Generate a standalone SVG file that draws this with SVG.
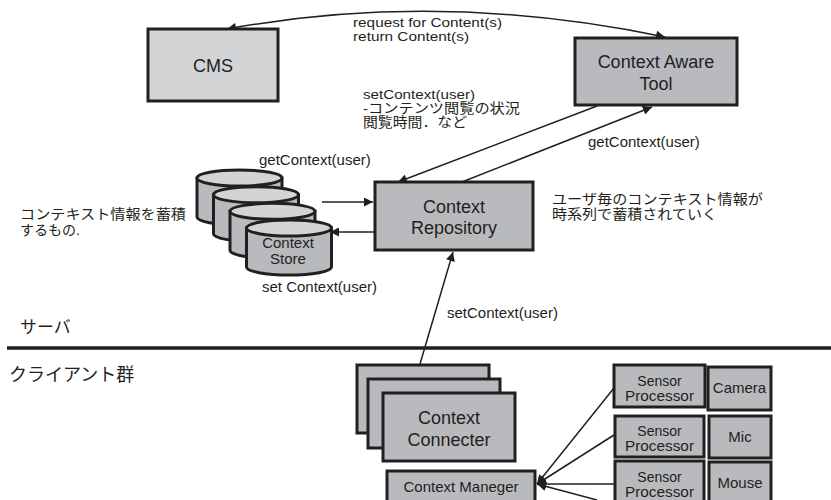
<svg xmlns="http://www.w3.org/2000/svg" width="831" height="500" viewBox="0 0 831 500">
<defs>
<style>
text{font-family:"Liberation Sans","Noto Sans CJK JP",Arial,sans-serif;fill:#231f20}
.box{fill:#b9babd;stroke:#231f20;stroke-width:3}
.lbox{fill:#d3d4d6;stroke:#231f20;stroke-width:3}
.cyl{fill:#b9babd;stroke:#231f20;stroke-width:3}
.cyltop{fill:#d3d4d6;stroke:#231f20;stroke-width:3}
.ln{fill:none;stroke:#231f20;stroke-width:1.5}
.c{text-anchor:middle}
.f18{font-size:18px}
.f15{font-size:15px}
.f14{font-size:14px}
.f13{font-size:13.5px}
</style>
<marker id="ah" viewBox="0 0 10 10" refX="10" refY="5" markerWidth="10" markerHeight="9" markerUnits="userSpaceOnUse" orient="auto-start-reverse">
<path d="M0,0 L10,5 L0,10 z" fill="#231f20"/>
</marker>
</defs>

<g id="connectors">
<path class="ln" d="M227,29 Q440,-10 665,37" marker-start="url(#ah)" marker-end="url(#ah)"/>
<line class="ln" x1="597" y1="106" x2="398" y2="182" marker-end="url(#ah)"/>
<line class="ln" x1="462" y1="182" x2="652" y2="107" marker-end="url(#ah)"/>
<line class="ln" x1="322" y1="202" x2="373" y2="202" stroke-width="2" marker-end="url(#ah)"/>
<line class="ln" x1="375" y1="232" x2="330" y2="232" stroke-width="2" marker-end="url(#ah)"/>
<line class="ln" x1="420" y1="364" x2="453" y2="252" marker-end="url(#ah)"/>
<line class="ln" x1="614" y1="388" x2="537" y2="484" marker-end="url(#ah)"/>
<line class="ln" x1="614" y1="435" x2="537" y2="484" marker-end="url(#ah)"/>
<line class="ln" x1="614" y1="484" x2="537" y2="484" marker-end="url(#ah)"/>
<line class="ln" x1="597" y1="500" x2="537" y2="484" marker-end="url(#ah)"/>
</g>

<line x1="7" y1="348" x2="831" y2="348" stroke="#231f20" stroke-width="3.5"/>

<g id="cms">
<rect class="lbox" x="148" y="29" width="130" height="72"/>
<text class="c f18" x="213" y="72">CMS</text>
</g>

<g id="context-aware-tool">
<rect class="box" x="575" y="38" width="162" height="67"/>
<text class="c f18" x="656" y="68">Context Aware</text>
<text class="c f18" x="656" y="90">Tool</text>
</g>

<g id="context-repository">
<rect class="box" x="375" y="182" width="158" height="68"/>
<text class="c f18" x="454" y="213">Context</text>
<text class="c f18" x="454" y="234">Repository</text>
</g>

<g id="context-store">
<path class="cyl" d="M197,178 v39 a42.5,8 0 0 0 85,0 v-39 z"/>
<ellipse class="cyltop" cx="239.5" cy="178" rx="42.5" ry="8"/>
<path class="cyl" d="M213.5,194.7 v39 a42.5,8 0 0 0 85,0 v-39 z"/>
<ellipse class="cyltop" cx="256" cy="194.7" rx="42.5" ry="8"/>
<path class="cyl" d="M230,211.3 v39 a42.5,8 0 0 0 85,0 v-39 z"/>
<ellipse class="cyltop" cx="272.5" cy="211.3" rx="42.5" ry="8"/>
<path class="cyl" d="M246.5,228 v39 a42.5,8 0 0 0 85,0 v-39 z"/>
<ellipse class="cyltop" cx="289" cy="228" rx="42.5" ry="8"/>
<text class="c f15" x="288" y="248">Context</text>
<text class="c f15" x="288" y="264">Store</text>
</g>

<g id="context-connecter">
<rect class="box" x="357" y="365" width="132" height="68"/>
<rect class="box" x="368" y="379" width="132" height="69"/>
<rect class="box" x="383" y="393" width="132" height="68"/>
<text class="c f18" x="449" y="424">Context</text>
<text class="c f18" x="449" y="446">Connecter</text>
</g>

<g id="context-maneger">
<rect class="box" x="387" y="471" width="148" height="40"/>
<text class="c f15" x="461" y="492">Context Maneger</text>
</g>

<g id="sensor1">
<rect class="box" x="614" y="365" width="91" height="42"/>
<text class="c f14" x="659.5" y="386">Sensor</text>
<text class="c f14" x="659.5" y="401" textLength="69" lengthAdjust="spacingAndGlyphs">Processor</text>
</g>
<g id="sensor2">
<rect class="box" x="615" y="416" width="89" height="41"/>
<text class="c f14" x="659.5" y="436">Sensor</text>
<text class="c f14" x="659.5" y="451" textLength="69" lengthAdjust="spacingAndGlyphs">Processor</text>
</g>
<g id="sensor3">
<rect class="box" x="615" y="461" width="89" height="50"/>
<text class="c f14" x="659.5" y="482">Sensor</text>
<text class="c f14" x="659.5" y="497" textLength="69" lengthAdjust="spacingAndGlyphs">Processor</text>
</g>
<g id="camera">
<rect class="box" x="708" y="367" width="63" height="43"/>
<text class="c f15" x="739.5" y="393">Camera</text>
</g>
<g id="mic">
<rect class="box" x="709" y="416" width="62" height="42"/>
<text class="c f15" x="740" y="442">Mic</text>
</g>
<g id="mouse">
<rect class="box" x="709" y="462" width="62" height="49"/>
<text class="c f15" x="740" y="488">Mouse</text>
</g>

<g id="labels">
<text class="f13" x="353" y="27" textLength="149" lengthAdjust="spacingAndGlyphs">request for Content(s)</text>
<text class="f13" x="353" y="41" textLength="116" lengthAdjust="spacingAndGlyphs">return Content(s)</text>
<text class="f13" x="363" y="99" textLength="112" lengthAdjust="spacingAndGlyphs">setContext(user)</text>
<text class="f13" x="363" y="113" textLength="157" lengthAdjust="spacingAndGlyphs">-コンテンツ閲覧の状況</text>
<text class="f13" x="363" y="127" textLength="104" lengthAdjust="spacingAndGlyphs">閲覧時間．など</text>
<text class="f15" x="588" y="147">getContext(user)</text>
<text class="f15" x="259" y="165">getContext(user)</text>
<text class="f15" x="262" y="292">set Context(user)</text>
<text class="f15" x="447" y="318">setContext(user)</text>
<text class="f14" x="20" y="219" textLength="166" lengthAdjust="spacingAndGlyphs">コンテキスト情報を蓄積</text>
<text class="f14" x="20" y="235">するもの.</text>
<text class="f14" x="552" y="204" textLength="211" lengthAdjust="spacingAndGlyphs">ユーザ毎のコンテキスト情報が</text>
<text class="f14" x="552" y="219" textLength="165" lengthAdjust="spacingAndGlyphs">時系列で蓄積されていく</text>
<text style="font-size:17px" x="20" y="333">サーバ</text>
<text class="f18" x="9" y="381">クライアント群</text>
</g>
</svg>
